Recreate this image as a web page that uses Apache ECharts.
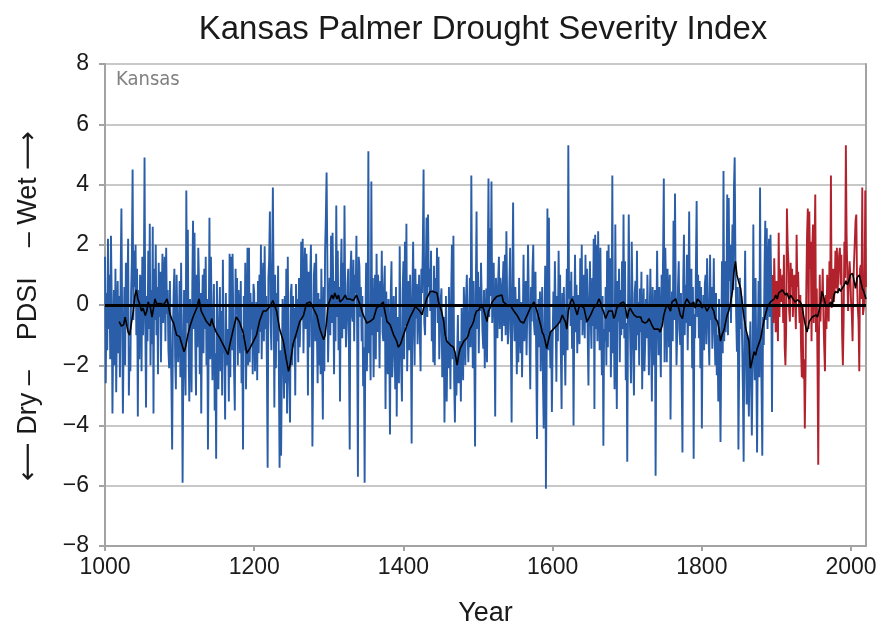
<!DOCTYPE html>
<html>
<head>
<meta charset="utf-8">
<script src="https://cdn.jsdelivr.net/npm/echarts@6/dist/echarts.min.js"></script>
<style>
  html, body { margin: 0; padding: 0; background: #ffffff; }
  #chart { width: 894px; height: 625px; }
</style>
</head>
<body>
<div id="chart"></div>
<script>
// Tree-ring reconstructed PDSI, one value per year starting at 1000 (through 1895)
const reconstructedStart = 1000;
const reconstructedPdsi = [
  1.6, -2.6, 0.4, -1.5, 2.2, -0.8, 1.0, -1.8, 2.3, 0.2,
  -3.6, -1.0, 0.5, -2.0, 1.2, -2.9, -0.5, 0.8, -1.6, 0.3,
  -2.4, 1.0, 3.2, -0.4, -3.6, -1.2, 0.6, -2.0, 1.4, -0.7,
  0.2, 2.2, -3.0, -1.4, -2.2, 0.4, 1.5, 4.5, -0.5, 1.8,
  0.6, 2.0, -1.0, 1.2, -3.7, 0.5, -1.8, 1.0, 0.8, -2.2,
  1.6, -1.0, 0.4, 4.9, -0.6, -3.4, 0.3, -1.2, 1.8, -0.8,
  2.7, -2.0, 0.5, -1.3, 2.6, -3.6, 1.2, -0.5, 2.0, -1.0,
  0.6, -2.3, 1.4, -0.4, 1.1, -1.9, 0.2, 1.7, -0.6, 0.9,
  1.6, -1.2, 1.9, -0.3, 0.5, -1.5, -2.1, 0.8, -1.0, -2.6,
  -4.8, -0.9, 0.4, 1.2, -1.7, -2.8, 1.0, -0.6, -1.9, -1.0,
  // 1100s
  0.8, -2.4, 1.4, -1.2, -5.9, -2.0, 0.5, -1.8, -3.0, 3.8,
  -0.6, 2.5, -1.4, -3.2, 0.2, -1.0, -2.9, 0.6, 2.8, -0.8,
  2.4, -1.2, -3.0, 1.0, -1.4, 1.9, 0.8, -2.3, 0.4, -3.6,
  -0.5, 1.0, -1.6, 1.2, -0.8, 1.6, -2.0, 0.2, -4.8, -1.0,
  2.9, -1.8, 1.6, -0.4, -2.5, -0.9, 0.7, -3.5, -1.6, -5.1,
  0.8, -1.2, -2.8, -0.8, 0.6, -2.2, -0.2, -3.0, 1.5, -1.4,
  -1.6, -3.8, 0.4, -2.0, -1.2, -0.8, -3.2, 1.7, -2.4, 1.6,
  -1.5, 1.7, -0.6, -2.2, -3.5, 1.2, -0.3, 0.9, -2.0, 0.5,
  -0.2, -1.6, 0.8, -2.6, -1.0, -4.8, 0.3, -1.5, 1.4, -2.8,
  -0.9, 1.9, -2.0, 1.9, -1.9, 0.4, -0.8, 0.1, -2.3, 0.7,
  // 1200s
  0.4, -2.2, -0.6, 0.1, -2.5, 0.8, -1.6, 1.0, -0.9, 2.0,
  -1.8, 0.2, 1.4, -1.2, 1.95, -0.8, 0.3, -2.0, -5.4, 0.9,
  1.5, 3.1, -0.6, -1.5, 1.2, 3.9, 0.6, -3.4, 1.0, -2.1,
  0.4, -1.2, 1.3, -2.0, -5.4, -1.5, -5.0, -2.4, 0.2, -1.0,
  -3.1, 0.3, -2.6, 1.2, -3.6, 1.6, -1.8, -2.7, -3.9, 0.4,
  0.7, -2.0, 0.3, -1.4, -0.1, -3.0, 0.7, -1.1, 0.2, -1.9,
  0.9, -1.4, -0.4, 2.1, -0.5, 2.2, -1.6, 0.6, 1.9, -0.8,
  1.7, 0.5, -3.0, 1.1, -1.4, 0.8, 2.0, -0.6, -4.7, -2.1,
  1.0, 1.4, -1.2, 1.7, -0.8, -2.6, 0.4, -2.0, 0.2, -2.3,
  1.2, -1.5, -3.8, 0.6, -2.2, 1.8, 2.9, 4.4, 1.6, -1.9,
  // 1300s
  -0.5, 0.9, -1.0, 2.3, -0.6, 2.4, 0.5, -2.3, 0.8, -1.2,
  3.3, -0.4, 1.8, -1.5, 0.6, -3.2, 0.9, 2.2, -1.1, 1.4,
  -0.8, 3.3, 0.2, -1.4, -0.55, 0.7, 1.2, -1.6, -4.8, 1.1,
  1.8, -0.3, -0.55, 1.5, -1.2, 1.0, 0.4, 2.3, -0.9, -5.7,
  1.6, 1.3, -0.4, 0.6, -1.2, 0.3, -2.7, -1.4, -5.9, -0.6,
  1.4, -2.2, -0.5, 5.1, -1.6, -0.8, -2.5, 4.1, -1.0, 0.9,
  -2.4, -0.55, 1.0, -1.8, 1.7, -0.9, 1.0, 0.2, -2.1, 0.8,
  -0.4, 1.8, -0.9, -1.2, 0.6, 1.3, -3.45, 0.45, -1.0, -2.3,
  0.2, -1.5, -4.3, 0.4, 1.45, -2.4, -1.6, 0.3, -0.9, -2.8,
  0.6, -3.7, -0.4, -1.2, -2.6, 1.95, -0.8, -2.1, -3.2, 0.5,
  // 1400s
  1.45, -1.8, 2.1, -0.7, 2.7, -2.2, -0.55, 0.8, -1.5, 1.0,
  -0.9, -4.6, 0.3, 2.1, -0.6, -2.0, 1.2, -0.45, 0.7, -1.3,
  -0.1, 1.0, -1.0, -2.2, 1.2, 0.4, 2.0, 4.5, -0.6, -1.0,
  1.2, 2.9, -0.4, 3.0, 0.6, 1.2, -0.2, 1.8, -1.2, 0.5,
  -1.9, 1.3, -2.0, 0.9, -0.1, 1.9, -0.6, 1.6, -1.8, -0.8,
  0.2, 0.55, -2.4, -1.55, -0.4, -3.9, -1.6, 0.3, -3.2, -1.2,
  -2.1, 0.6, -1.0, -2.8, 0.4, 2.0, -1.8, 2.3, -2.5, -3.9,
  -1.7, -3.0, -1.7, -0.33, -2.6, -1.2, -1.7, -3.2, -0.1, -1.4,
  -2.5, 0.6, -0.55, -2.0, 0.3, 1.0, -0.9, -1.9, -0.6, 0.9,
  -1.4, 4.3, 0.2, -2.1, 0.8, -1.5, -4.7, 0.4, 3.1, -0.8,
  // 1500s
  1.1, -1.6, 0.6, -0.2, 1.4, 0.1, -0.9, -1.45, 0.5, -2.1,
  -0.7, 0.55, -1.9, 1.0, 4.2, -0.4, 2.55, 0.3, 4.1, -0.6,
  0.33, 1.4, -0.8, -3.7, 0.9, 0.1, -1.1, 0.8, 1.6, -0.8,
  0.9, 0.45, -1.2, 0.6, 1.45, -0.7, 1.67, -1.0, 2.45, 0.2,
  -1.3, -0.8, 0.7, 1.9, -1.1, -3.9, 0.5, 3.4, -0.3, -1.2,
  0.6, -0.4, -2.3, 0.2, -1.9, 0.9, -0.45, -1.6, 0.1, -2.4,
  -0.6, 1.67, -1.2, -0.55, 0.8, -1.67, -0.3, 2.0, 0.4, -1.0,
  -2.8, 0.6, -0.55, 1.2, 2.0, -0.6, -1.0, 1.1, -1.8, -4.45,
  -0.6, 0.2, -1.4, 0.45, -2.2, -0.45, 0.6, -2.5, -4.1, -0.8,
  1.3, -6.1, -1.8, 3.2, -1.5, 2.9, -0.7, -2.1, -0.9, -3.55,
  // 1600s
  -1.2, 0.45, -0.8, 1.45, -0.3, -2.55, 0.3, -1.2, 1.8, -0.6,
  1.0, -1.6, -3.45, 0.4, -1.67, 0.6, -1.0, -2.67, -0.4, 1.2,
  -1.5, 5.3, 0.2, 0.8, -0.7, 1.1, -1.45, 0.3, -4.0, -0.5,
  1.67, -0.9, 0.67, -1.6, 0.33, -0.8, -1.3, 1.55, -0.5, 2.0,
  -1.0, -0.1, 1.0, -1.1, 1.67, -0.6, 1.2, -1.0, -2.67, 0.2,
  1.45, -0.4, -1.45, 0.9, -0.7, 2.2, -3.45, 2.33, -0.8, 2.0,
  -1.2, 2.45, 0.4, -1.5, 1.9, -0.6, -2.33, 0.3, -4.67, -0.8,
  -1.2, 0.6, -2.0, 1.8, -1.4, 2.0, -0.9, 1.55, -2.4, -0.6,
  4.3, -1.6, -0.55, -2.8, 2.67, -0.9, -3.45, 0.8, -0.55, 1.2,
  -1.9, 0.5, -1.0, 1.45, -0.8, 3.0, -1.1, 1.45, -2.5, -0.6,
  // 1700s
  -5.2, -0.4, 3.0, 0.2, -1.2, -2.6, 2.1, 0.3, -1.8, -3.0,
  0.4, 0.8, -1.5, 1.8, -1.0, 0.1, -2.0, 0.55, -0.9, 1.1,
  -2.8, -0.6, 0.55, -2.2, -1.3, 0.2, -1.1, 1.0, -0.4, -2.33,
  -0.5, 1.2, -1.3, -3.2, 0.6, -0.8, -2.0, 0.5, -5.67, -0.9,
  1.8, -0.4, -1.67, 0.6, -1.0, -2.4, 1.0, -0.5, 1.6, 4.2,
  -1.9, 1.9, 0.5, -1.9, 1.2, 0.1, -1.4, 1.0, -3.8, -0.6,
  0.45, -1.2, 2.8, -0.5, 3.7, 0.3, -2.0, -0.9, 0.6, 1.45,
  -0.8, -1.33, 0.4, -2.6, -4.9, 0.8, 2.33, -1.0, 0.67, -0.6,
  1.67, -1.5, 0.4, 3.1, -0.7, 0.1, 1.2, -2.1, 0.6, -5.1,
  -0.3, -1.1, 1.2, 3.45, -0.4, 1.0, -1.1, 0.8, -2.1, 0.6,
  // 1800s
  -4.1, -0.7, 0.33, -1.5, 0.7, 1.0, -1.3, 1.55, 0.2, -1.0,
  -2.0, 1.67, -0.5, 0.6, -1.45, -0.4, 1.55, -0.8, -2.0, 0.4,
  -2.33, -1.0, -3.2, 0.2, -2.2, -4.55, -1.4, 1.45, -1.6, 4.45,
  -1.2, 1.45, -0.9, 0.4, 3.67, -1.0, 3.55, 0.8, 2.0, -0.6,
  1.0, 2.67, 0.5, 3.9, 4.9, 1.45, -0.4, -1.55, 0.6, -4.8,
  -2.0, 0.9, -0.8, 0.3, -1.2, -2.8, -5.2, -0.9, 1.8, -1.4,
  -3.3, -1.0, -2.2, -3.7, -1.6, -0.55, -2.6, -4.33, -1.8, 2.67,
  -1.5, -2.5, 0.9, -2.0, -4.9, -1.2, 0.8, -2.4, 3.9, -1.0,
  -2.8, -5.0, -0.4, -1.33, 1.2, 2.8, -0.5, 2.55, -0.8, 1.0,
  2.2, -0.4, 2.33, 0.6, -3.55, 1.0
];

// Instrumental PDSI, one value per year from 1895 through 2020
const instrumentalStart = 1895;
const instrumentalPdsi = [
  1.0, -0.6, 1.55, 0.4, -0.9,
  0.8, -0.3, -1.2, 2.4, -0.4, 1.2, 0.1, 0.33, 1.0, -0.6,
  1.67, -1.4, -2.0, -0.8, 3.2, 2.0, 1.45, -0.2, -0.55, 1.4,
  0.6, 1.2, -0.4, 0.8, 1.0, 0.0, -0.8, 2.33, 0.6, 1.1,
  0.1, -0.6, 0.33, -1.5, -2.4, 0.0, -2.45, -1.8, -4.1, -2.1,
  0.6, 2.33, 3.2, -0.8, 3.1, 1.2, 2.1, -1.2, 1.9, 2.67,
  -0.6, 1.9, 3.67, -0.9, 0.55, -2.0, -5.3, -1.0, 1.0, -0.55,
  0.45, 0.1, 1.2, -0.45, -1.4, -2.2, 0.33, -0.8, 1.0, 0.1,
  -0.55, 1.45, 0.2, 4.3, -0.1, 1.0, 1.2, 0.1, 0.55, 1.8,
  0.55, 1.9, 0.4, 1.1, 1.67, 1.9, 0.67, 1.67, -1.0, -2.0,
  -0.55, 2.1, 0.9, 5.3, 2.33, 1.0, -0.2, 0.8, 1.45, 1.0,
  0.1, -0.33, -1.2, 0.67, 1.45, 2.1, 2.8, 3.0, 0.8, -0.1,
  -0.55, -2.2, 1.2, 1.33, 0.2, 3.9, -0.33, -0.1, 0.1, 3.8,
  0.6
];

// Low-pass smoothed PDSI as [year, value]
const smoothedPdsi = [
  [1019,-0.55],[1022,-0.7],[1025,-0.65],[1027,-0.4],[1031,-0.9],[1033,-1.0],[1036,-0.5],[1038,-0.2],
  [1040,0.3],[1042,0.5],[1044,0.2],[1047,0.0],[1049,-0.2],[1051,-0.1],[1054,-0.35],[1056,-0.2],
  [1058,0.1],[1061,-0.1],[1063,-0.4],[1065,-0.1],[1067,0.2],[1069,0.05],[1071,0.0],[1075,0.05],
  [1078,0.0],[1081,0.1],[1083,0.2],[1085,0.0],[1087,-0.3],[1090,-0.5],[1092,-0.6],[1094,-0.8],
  [1096,-1.0],[1100,-1.05],[1103,-1.3],[1106,-1.55],[1108,-1.4],[1111,-1.0],[1114,-0.7],[1118,-0.4],
  [1123,-0.1],[1126,0.2],[1129,-0.2],[1132,-0.35],[1136,-0.55],[1141,-0.7],[1143,-0.45],[1145,-0.65],
  [1149,-0.9],[1154,-1.1],[1158,-1.3],[1163,-1.55],[1165,-1.65],[1167,-1.35],[1172,-0.8],[1176,-0.4],
  [1180,-0.55],[1185,-0.9],[1188,-1.3],[1190,-1.6],[1194,-1.45],[1199,-1.2],[1203,-1.0],[1207,-0.55],
  [1212,-0.2],[1216,-0.2],[1221,-0.05],[1225,0.15],[1230,-0.2],[1234,-0.8],[1239,-1.2],[1243,-1.8],
  [1246,-2.2],[1248,-2.0],[1252,-1.3],[1257,-0.9],[1261,-0.55],[1266,-0.35],[1270,0.05],[1275,0.1],
  [1279,-0.1],[1284,-0.35],[1288,-0.8],[1293,-1.15],[1295,-1.0],[1297,-0.55],[1299,0.0],[1304,0.33],
  [1306,0.2],[1308,0.4],[1311,0.2],[1313,0.33],[1315,0.1],[1319,0.2],[1322,0.33],[1324,0.2],
  [1328,0.2],[1333,0.15],[1337,0.33],[1342,0.0],[1346,-0.33],[1351,-0.6],[1353,-0.65],[1355,-0.55],
  [1360,-0.45],[1364,-0.1],[1369,0.0],[1373,0.1],[1375,-0.2],[1378,-0.55],[1382,-0.65],[1387,-1.0],
  [1391,-1.2],[1393,-1.4],[1396,-1.3],[1400,-1.0],[1405,-0.65],[1409,-0.4],[1413,-0.2],[1416,-0.05],
  [1418,-0.1],[1422,-0.2],[1425,-0.33],[1427,-0.1],[1429,0.0],[1431,0.2],[1436,0.45],[1438,0.5],
  [1440,0.45],[1445,0.4],[1447,0.1],[1451,-0.2],[1454,-0.55],[1456,-1.0],[1458,-1.2],[1463,-1.33],
  [1467,-1.4],[1469,-1.55],[1472,-2.0],[1474,-1.67],[1476,-1.45],[1481,-1.2],[1485,-1.1],[1487,-1.0],
  [1489,-0.8],[1492,-0.67],[1494,-0.55],[1496,-0.33],[1498,-0.2],[1501,-0.17],[1503,-0.05],[1507,-0.1],
  [1512,-0.55],[1514,-0.2],[1516,-0.1],[1519,0.1],[1521,0.17],[1525,0.28],[1527,0.33],[1532,0.33],
  [1534,0.1],[1539,0.0],[1543,0.0],[1548,-0.2],[1552,-0.33],[1557,-0.55],[1561,-0.6],[1566,-0.33],
  [1570,-0.1],[1575,0.1],[1577,0.05],[1579,-0.2],[1584,-0.67],[1586,-0.9],[1588,-1.0],[1590,-1.2],
  [1592,-1.45],[1595,-1.1],[1597,-0.9],[1601,-0.8],[1606,-0.67],[1610,-0.55],[1613,-0.33],[1615,-0.45],
  [1617,-0.55],[1619,-0.8],[1621,-0.2],[1624,0.1],[1626,0.2],[1628,0.1],[1630,-0.1],[1633,-0.33],
  [1635,-0.1],[1637,0.0],[1642,-0.1],[1644,-0.33],[1646,-0.55],[1651,-0.33],[1655,-0.1],[1659,0.0],
  [1662,0.2],[1664,0.1],[1666,-0.1],[1668,-0.2],[1671,-0.45],[1673,-0.4],[1675,-0.2],[1680,-0.2],
  [1682,-0.45],[1684,-0.33],[1686,-0.1],[1691,0.05],[1695,0.1],[1697,0.0],[1700,-0.45],[1702,-0.2],
  [1704,-0.1],[1706,-0.2],[1709,-0.33],[1713,-0.4],[1718,-0.4],[1720,-0.55],[1724,-0.6],[1727,-0.55],
  [1729,-0.45],[1731,-0.55],[1733,-0.67],[1736,-0.8],[1738,-0.85],[1742,-0.8],[1744,-0.9],[1747,-0.67],
  [1749,-0.33],[1751,-0.15],[1753,0.0],[1756,-0.1],[1758,-0.2],[1760,0.1],[1762,0.1],[1765,0.2],
  [1767,0.0],[1769,-0.1],[1771,-0.33],[1774,-0.45],[1776,-0.1],[1778,0.1],[1780,0.2],[1785,0.0],
  [1789,0.1],[1791,-0.1],[1794,0.2],[1796,0.2],[1798,0.1],[1800,-0.1],[1803,0.0],[1805,-0.1],
  [1807,-0.2],[1809,-0.1],[1812,0.0],[1814,-0.1],[1816,-0.2],[1818,-0.45],[1821,-0.55],[1823,-0.8],
  [1825,-1.2],[1827,-1.0],[1830,-0.8],[1832,-0.55],[1834,-0.33],[1836,-0.2],[1838,0.0],[1841,0.45],
  [1843,1.1],[1845,1.45],[1847,1.0],[1849,0.8],[1852,0.55],[1854,0.1],[1856,-0.33],[1859,-0.8],
  [1861,-1.0],[1863,-1.2],[1865,-2.1],[1867,-1.9],[1870,-1.55],[1872,-1.67],[1874,-1.45],[1876,-1.45],
  [1879,-1.1],[1881,-0.8],[1883,-0.55],[1885,-0.33],[1888,-0.05],[1890,0.0],[1892,0.1],[1894,0.1],
  [1897,0.2],[1899,0.33],[1901,0.2],[1903,0.4],[1905,0.45],[1908,0.5],[1910,0.45],[1912,0.33],
  [1914,0.4],[1917,0.2],[1919,0.33],[1921,0.28],[1923,0.17],[1925,0.1],[1928,0.17],[1930,0.2],
  [1932,0.1],[1934,0.0],[1937,-0.45],[1939,-0.7],[1941,-0.9],[1944,-0.55],[1948,-0.4],[1950,-0.4],
  [1953,-0.33],[1955,-0.4],[1957,-0.2],[1959,0.05],[1961,0.45],[1964,0.2],[1966,-0.05],[1968,-0.1],
  [1970,0.0],[1973,0.1],[1975,0.0],[1977,0.33],[1979,0.45],[1982,0.4],[1984,0.55],[1986,0.45],
  [1988,0.55],[1991,0.67],[1993,0.8],[1995,0.67],[1997,0.8],[1999,1.0],[2002,1.05],[2004,0.8],
  [2006,0.55],[2008,0.9],[2011,1.0],[2013,0.8],[2015,0.55],[2017,0.45],[2020,0.2]
];

const xTicks = [1000, 1200, 1400, 1600, 1800, 2000];
const yTicks = [-8, -6, -4, -2, 0, 2, 4, 6, 8];

const toPairs = (start, values) => values.map((v, i) => [start + i, v]);

const chart = echarts.init(document.getElementById('chart'), null, { renderer: 'canvas' });

const gridColor = '#c8c8c8';
const axisColor = '#a3a3a3';
const textColor = '#1a1a1a';
const fontFamily = 'Liberation Sans, Arial, Helvetica, sans-serif';

chart.setOption({
  animation: false,
  backgroundColor: '#ffffff',
  title: {
    text: 'Kansas Palmer Drought Severity Index',
    left: 478,
    textAlign: 'center',
    top: 8,
    textStyle: { fontFamily, fontSize: 33, fontWeight: 'normal', color: textColor }
  },
  grid: { left: 105, right: 28, top: 64, bottom: 79, containLabel: false, outerBoundsMode: 'none' },
  xAxis: {
    type: 'value',
    min: 1000,
    max: 2020,
    interval: 200,
    name: 'Year',
    nameLocation: 'middle',
    nameGap: 54,
    nameTextStyle: { fontFamily, fontSize: 27, color: textColor },
    axisLine: { show: true, onZero: false, lineStyle: { color: axisColor, width: 2 } },
    axisTick: { show: true, length: 5, lineStyle: { color: axisColor, width: 2 }, customValues: xTicks },
    axisLabel: {
      fontFamily, fontSize: 23, color: textColor, margin: 10, customValues: xTicks,
      formatter: v => String(v)
    },
    splitLine: { show: false }
  },
  yAxis: [
    {
      type: 'value',
      min: -8,
      max: 8,
      interval: 2,
      axisLine: { show: true, onZero: false, lineStyle: { color: axisColor, width: 2 } },
      axisTick: { show: true, length: 6, lineStyle: { color: axisColor, width: 2 }, customValues: yTicks },
      axisLabel: {
        fontFamily, fontSize: 23, color: textColor, margin: 16, customValues: yTicks,
        formatter: v => (v < 0 ? '\u2212' + Math.abs(v) : String(v))
      },
      splitLine: { show: true, lineStyle: { color: gridColor, width: 2 } }
    },
    {
      type: 'value',
      min: -8,
      max: 8,
      position: 'right',
      axisLine: { show: true, lineStyle: { color: axisColor, width: 2 } },
      axisTick: { show: false },
      axisLabel: { show: false },
      splitLine: { show: false }
    }
  ],
  graphic: [
    {
      type: 'text',
      left: 116,
      top: 70,
      style: { text: 'Kansas', font: '20px "Liberation Sans Narrow", "DejaVu Sans Condensed", sans-serif', fill: '#808080' }
    },
    {
      type: 'text',
      x: 29,
      y: 306,
      rotation: Math.PI / 2,
      style: {
        text: '\u27F5 Dry \u2013    PDSI    \u2013 Wet \u27F6',
        font: '27px "Liberation Sans", "DejaVu Sans", sans-serif',
        fill: textColor,
        align: 'center',
        verticalAlign: 'middle'
      }
    }
  ],
  series: [
    {
      name: 'Reconstructed',
      type: 'line',
      data: toPairs(reconstructedStart, reconstructedPdsi),
      showSymbol: false,
      symbol: 'none',
      lineStyle: { color: '#2a5ea8', width: 1.9 },
      z: 2,
      silent: true
    },
    {
      name: 'Instrumental',
      type: 'line',
      data: toPairs(instrumentalStart, instrumentalPdsi),
      showSymbol: false,
      symbol: 'none',
      lineStyle: { color: '#b1222d', width: 1.9 },
      z: 3,
      silent: true,
      markLine: {
        silent: true,
        symbol: ['none', 'none'],
        label: { show: false },
        lineStyle: { color: '#000000', width: 3, type: 'solid' },
        data: [{ yAxis: 0 }]
      }
    },
    {
      name: 'Smoothed',
      type: 'line',
      data: smoothedPdsi,
      showSymbol: false,
      symbol: 'none',
      lineStyle: { color: '#000000', width: 1.6 },
      z: 5,
      silent: true
    }
  ]
});
</script>
</body>
</html>
